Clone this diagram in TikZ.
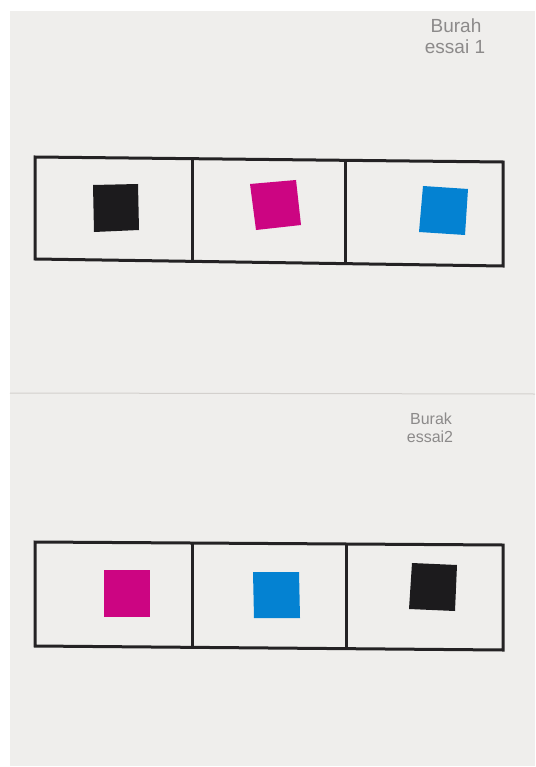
\documentclass[tikz,border=0pt]{standalone}
\usepackage{fontspec}
\setmainfont{Liberation Sans}
\definecolor{paper}{HTML}{EFEEEC}
\definecolor{fold}{HTML}{D3D0CD}
\definecolor{ink}{HTML}{242224}
\definecolor{pencil}{HTML}{8C8A8A}
\definecolor{sqblack}{HTML}{1C1B1D}
\definecolor{sqmag}{HTML}{CC0582}
\definecolor{sqblue}{HTML}{0482D2}
\tikzset{
  framebox/.style={draw=ink, line width=3pt, line join=miter},
  divider/.style={draw=ink, line width=3pt},
  handnote/.style={text=pencil, inner sep=0pt, anchor=center},
}
\begin{document}
\begin{tikzpicture}[x=1pt,y=-1pt]
\useasboundingbox (0,0) rectangle (535,767);
\fill[white] (0,0) rectangle (535,767);
\fill[paper] (10,11) rectangle (535,766);
% fold line
\draw[fold, line width=1pt] (10,393) -- (535,394);
% handwritten notes
\node[handnote, font=\fontsize{19}{19}\selectfont] (n1a) at (456,26) {Burah};
\node[handnote, font=\fontsize{19}{19}\selectfont] (n1b) at (455,47) {essai 1};
\node[handnote, font=\fontsize{16}{16}\selectfont] (n2a) at (431,419) {Burak};
\node[handnote, font=\fontsize{16}{16}\selectfont] (n2b) at (430,437) {essai2};
% top frame
\coordinate (t1) at (35,157);
\coordinate (t2) at (503,162);
\coordinate (t3) at (503,266);
\coordinate (t4) at (35,259);
\draw[framebox] (t1) -- (t2) -- (t3) -- (t4) -- cycle;
\coordinate (tda) at (192,159); \coordinate (tdb) at (192,262);
\coordinate (tdc) at (345,160); \coordinate (tdd) at (345,264);
\draw[divider] (tda) -- (tdb);
\draw[divider] (tdc) -- (tdd);
% top squares
\fill[sqblack] (93,185) -- (138,184) -- (139,230) -- (94,232) -- cycle;
\fill[sqmag] (250,184) -- (296,180) -- (301,225) -- (256,230) -- cycle;
\fill[sqblue] (423,186) -- (468,189) -- (465,235) -- (419,232) -- cycle;
% bottom frame
\coordinate (b1) at (35,542);
\coordinate (b2) at (503,545);
\coordinate (b3) at (503,650);
\coordinate (b4) at (35,646);
\draw[framebox] (b1) -- (b2) -- (b3) -- (b4) -- cycle;
\coordinate (bda) at (192,544); \coordinate (bdb) at (192,647);
\coordinate (bdc) at (346,545); \coordinate (bdd) at (346,648);
\draw[divider] (bda) -- (bdb);
\draw[divider] (bdc) -- (bdd);
% bottom squares
\fill[sqmag] (104,570) -- (150,570) -- (150,617) -- (104,617) -- cycle;
\fill[sqblue] (253,572) -- (299,572) -- (300,618) -- (254,618) -- cycle;
\fill[sqblack] (412,563) -- (457,565) -- (455,611) -- (409,609) -- cycle;
\end{tikzpicture}
\end{document}
